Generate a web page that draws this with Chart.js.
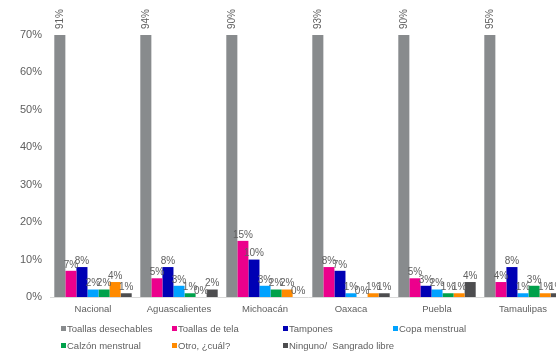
<!DOCTYPE html>
<html lang="es">
<head>
    <meta charset="UTF-8">
    <script src="https://cdn.jsdelivr.net/npm/chart.js@4"></script>
    <title>Productos de gestión menstrual</title>
    <style>
        body { margin: 0; background: #fff; }
        #wrap { width: 556px; height: 354px; overflow: hidden; }
    </style>
</head>
<body>
    <div id="wrap"><canvas id="chart" width="570" height="354"></canvas></div>

    <script>
        const estados = ['Nacional', 'Aguascalientes', 'Michoacán', 'Oaxaca', 'Puebla', 'Tamaulipas'];

        const toallasDesechables = [91, 94, 90, 93, 90, 95];
        const toallasTela        = [7, 5, 15, 8, 5, 4];
        const tampones           = [8, 8, 10, 7, 3, 8];
        const copaMenstrual      = [2, 3, 3, 1, 2, 1];
        const calzonMenstrual    = [2, 1, 2, 0, 1, 3];
        const otro               = [4, 0, 2, 1, 1, 1];
        const ninguno            = [1, 2, 0, 1, 4, 1];

        const yTicks = [0, 10, 20, 30, 40, 50, 60, 70];

        const series = [
            { label: 'Toallas desechables', data: toallasDesechables, color: '#888b8d' },
            { label: 'Toallas de tela', data: toallasTela, color: '#ec008c' },
            { label: 'Tampones', data: tampones, color: '#0000b4' },
            { label: 'Copa menstrual', data: copaMenstrual, color: '#00a2ff' },
            { label: 'Calzón menstrual', data: calzonMenstrual, color: '#00a14b' },
            { label: 'Otro, ¿cuál?', data: otro, color: '#ff8a00' },
            { label: 'Ninguno/  Sangrado libre', data: ninguno, color: '#4d4d4f' }
        ];

        const FONT = 'Liberation Sans, Arial, sans-serif';
        const TXT = '#606060';

        // value labels on top of each bar; bars above the axis max get a rotated label
        const barLabels = {
            id: 'barLabels',
            afterDatasetsDraw(chart) {
                const ctx = chart.ctx;
                const top = chart.chartArea.top;
                const max = chart.scales.y.max;
                ctx.save();
                ctx.font = '10px ' + FONT;
                ctx.fillStyle = TXT;
                chart.data.datasets.forEach((ds, i) => {
                    chart.getDatasetMeta(i).data.forEach((bar, j) => {
                        const v = ds.data[j];
                        const txt = v + '%';
                        if (v > max) {
                            ctx.save();
                            ctx.translate(bar.x, top - 6);
                            ctx.rotate(-Math.PI / 2);
                            ctx.textAlign = 'left';
                            ctx.textBaseline = 'middle';
                            ctx.fillText(txt, 0, 0);
                            ctx.restore();
                        } else {
                            ctx.textAlign = 'center';
                            ctx.textBaseline = 'bottom';
                            ctx.fillText(txt, bar.x, bar.y - 1);
                        }
                    });
                });
                ctx.restore();
            }
        };

        // legend in a fixed 4-column grid
        const gridLegend = {
            id: 'gridLegend',
            afterDraw(chart) {
                const ctx = chart.ctx;
                const cols = [61, 172, 283, 393];
                const rows = [329, 346];
                ctx.save();
                ctx.font = '9.5px ' + FONT;
                ctx.textBaseline = 'middle';
                ctx.textAlign = 'left';
                chart.data.datasets.forEach((ds, i) => {
                    const x = cols[i % 4];
                    const y = rows[Math.floor(i / 4)];
                    ctx.fillStyle = ds.backgroundColor;
                    ctx.fillRect(x, y - 3, 5, 5);
                    ctx.fillStyle = TXT;
                    ctx.fillText(ds.label, x + 6, y);
                });
                ctx.restore();
            }
        };

        new Chart(document.getElementById('chart'), {
            type: 'bar',
            data: {
                labels: estados,
                datasets: series.map(s => ({
                    label: s.label,
                    data: s.data,
                    backgroundColor: s.color,
                    borderWidth: 0,
                    categoryPercentage: 0.9,
                    barPercentage: 1
                }))
            },
            options: {
                responsive: false,
                animation: false,
                layout: { padding: { top: 35, right: 4, bottom: 35, left: 0 } },
                plugins: {
                    legend: { display: false },
                    tooltip: { enabled: false }
                },
                scales: {
                    x: {
                        grid: { display: false, drawTicks: false },
                        border: { display: true, color: '#d9d9d9' },
                        ticks: { color: TXT, font: { family: FONT, size: 9.5 }, padding: 7 },
                        afterFit(s) { s.height = 22; }
                    },
                    y: {
                        min: 0,
                        max: 70,
                        grid: { display: false, drawTicks: false },
                        border: { display: false },
                        afterBuildTicks(s) { s.ticks = yTicks.map(v => ({ value: v })); },
                        ticks: {
                            color: TXT,
                            font: { family: FONT, size: 11 },
                            padding: 8,
                            callback: v => v + '%'
                        },
                        afterFit(s) { s.width = 50; }
                    }
                }
            },
            plugins: [barLabels, gridLegend]
        });
    </script>
</body>
</html>
